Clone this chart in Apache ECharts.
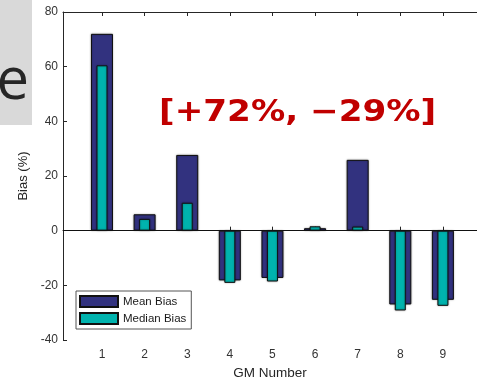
<!DOCTYPE html>
<html>
<head>
<meta charset="utf-8">
<script src="https://cdn.jsdelivr.net/npm/echarts@6/dist/echarts.min.js"></script>
<style>html,body{margin:0;padding:0;background:#fff}#c{width:477px;height:379px}</style>
</head>
<body>
<div id="c"></div>
<script>
const gmNumbers = [1, 2, 3, 4, 5, 6, 7, 8, 9];
const xTickLabels = ['1', '2', '3', '4', '5', '6', '7', '8', '9'];
const meanBias = [72, 6, 27.7, -18.2, -17.3, 0.9, 25.9, -27, -25.3];
const medianBias = [60.5, 4.3, 10.2, -19.1, -18.6, 1.6, 1.5, -29.2, -27.5];
const yTicks = [-40, -20, 0, 20, 40, 60, 80];
const seriesNames = ['Mean Bias', 'Median Bias'];
const annotation = '[+72%, \u221229%]';

const chart = echarts.init(document.getElementById('c'), null, {renderer: 'canvas'});
const font = 'Liberation Sans, Arial, sans-serif';
const axisCol = '#262626';
const tickLabelsFn = v => {
  const i = gmNumbers.indexOf(Math.round(v));
  return (i >= 0 && Math.abs(v - gmNumbers[i]) < 1e-6) ? xTickLabels[i] : '';
};
chart.setOption({
  animation: false,
  grid: {left: 63, top: 12, right: 0, bottom: 39, containLabel: false, outerBoundsMode: 'none'},
  xAxis: [{
    type: 'value', min: 0.085, max: 9.8, position: 'bottom',
    name: 'GM Number', nameLocation: 'middle', nameGap: 25,
    nameTextStyle: {fontFamily: font, fontSize: 13.5, color: '#262626'},
    axisLine: {show: true, lineStyle: {color: axisCol, width: 1}},
    axisTick: {show: true, inside: true, length: 4, lineStyle: {color: axisCol}, customValues: gmNumbers},
    axisLabel: {show: true, margin: 9, fontFamily: font, fontSize: 12, color: '#333', customValues: gmNumbers, formatter: tickLabelsFn},
    splitLine: {show: false}
  }, {
    type: 'value', min: 0.085, max: 9.8, position: 'top',
    axisLine: {show: true, lineStyle: {color: axisCol, width: 1}},
    axisTick: {show: true, inside: true, length: 4, lineStyle: {color: axisCol}, customValues: gmNumbers},
    axisLabel: {show: false},
    splitLine: {show: false}
  }],
  yAxis: {
    type: 'value', min: yTicks[0], max: yTicks[yTicks.length - 1], interval: 20,
    name: 'Bias (%)', nameLocation: 'middle', nameGap: 26,
    nameTextStyle: {fontFamily: font, fontSize: 13, color: '#262626'},
    axisLine: {show: true, lineStyle: {color: axisCol, width: 1}},
    axisTick: {show: true, inside: true, length: 4, lineStyle: {color: axisCol}},
    axisLabel: {margin: 5, fontFamily: font, fontSize: 12, color: '#333'},
    splitLine: {show: false}
  },
  legend: {
    orient: 'vertical', left: 76, top: 291,
    data: seriesNames,
    itemWidth: 38, itemHeight: 11, itemGap: 4,
    padding: [4, 5, 4, 3],
    backgroundColor: '#fff', borderColor: '#555', borderWidth: 1,
    icon: 'rect',
    textStyle: {fontFamily: font, fontSize: 11.5, color: '#1a1a1a'},
    selectedMode: false
  },
  series: [{
    name: seriesNames[0], type: 'bar', xAxisIndex: 0,
    data: gmNumbers.map((x, i) => [x, meanBias[i]]),
    barWidth: 22,
    itemStyle: {color: '#32327f', borderColor: '#111', borderWidth: 1, shadowColor: 'rgba(0,0,0,0.35)', shadowBlur: 2},
    markLine: {
      silent: true, symbol: 'none', label: {show: false},
      lineStyle: {color: '#111', width: 1, type: 'solid'},
      data: [{yAxis: 0}]
    },
    z: 2
  }, {
    name: seriesNames[1], type: 'bar', xAxisIndex: 1,
    data: gmNumbers.map((x, i) => [x, medianBias[i]]),
    barWidth: 11,
    itemStyle: {color: '#00b3ae', borderColor: '#111', borderWidth: 1, shadowColor: 'rgba(0,0,0,0.35)', shadowBlur: 2},
    z: 3
  }],
  graphic: [
    {type: 'rect', left: 0, top: 0, shape: {width: 32, height: 125}, style: {fill: '#d9d9d9'}, z: 0},
    {type: 'text', x: 29, y: 82, style: {text: 'e', font: '58px "Open Sans", "Noto Sans", sans-serif', fill: '#262626', align: 'right', verticalAlign: 'middle'}, z: 1},
    {type: 'text', x: 159, y: 113, scaleX: 1.14, style: {text: annotation, font: 'bold 30px "DejaVu Sans", sans-serif', fill: '#c00000', align: 'left', verticalAlign: 'middle'}, z: 10}
  ]
});
</script>
</body>
</html>
